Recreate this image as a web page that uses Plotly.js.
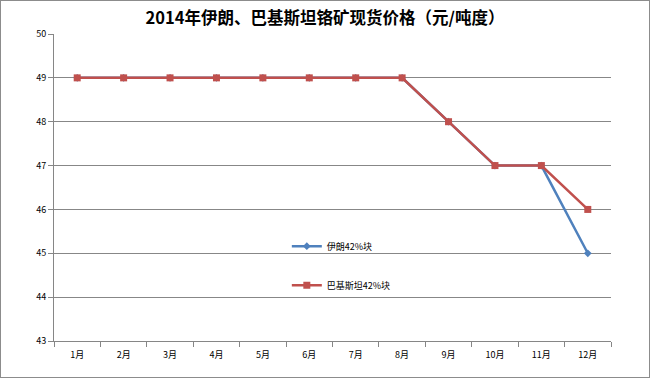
<!DOCTYPE html>
<html><head><meta charset="utf-8">
<script src="https://cdn.plot.ly/plotly-3.0.1.min.js"></script>
<style>html,body{margin:0;padding:0;background:#fff}#c{width:648px;height:376px;border:1px solid #8c8c8c}</style>
</head><body><div id="c"></div>
<script>
const months = ['1月','2月','3月','4月','5月','6月','7月','8月','9月','10月','11月','12月'];
const iran = [49,49,49,49,49,49,49,49,48,47,47,45];
const pakistan = [49,49,49,49,49,49,49,49,48,47,47,46];
const yTicks = [43,44,45,46,47,48,49,50];
const F = '"Noto Sans CJK SC", "Liberation Sans", sans-serif';
const traces = [
  {x: months, y: iran, name: '伊朗42%块', type: 'scatter', mode: 'lines+markers', legendgroup: 'a',
   line: {color: '#4F81BD', width: 2.5}, marker: {symbol: 'diamond', size: 6, color: '#4F81BD'}},
  {x: months, y: pakistan, name: '巴基斯坦42%块', type: 'scatter', mode: 'lines+markers', legendgroup: 'b',
   line: {color: '#C0504D', width: 2.5}, marker: {symbol: 'square', size: 7, color: '#C0504D'}}
];
const layout = {
  width: 648, height: 376,
  margin: {l: 53, r: 38, t: 33, b: 36},
  paper_bgcolor: '#fff', plot_bgcolor: '#fff',
  font: {family: F, size: 9, color: '#000'},
  title: {text: '<b>2014年伊朗、巴基斯坦铬矿现货价格（元/吨度）</b>', x: 0.5, xanchor: 'center', y: 0.955, yanchor: 'middle',
          font: {family: F, size: 16.5, color: '#000'}},
  xaxis: {type: 'category', range: [-0.5, 11.5], showgrid: false, showline: true, linecolor: '#868686', linewidth: 1,
          ticks: 'outside', tickson: 'boundaries', ticklen: 5, tickcolor: '#868686', tickfont: {size: 9},
          ticklabelstandoff: 5, fixedrange: true},
  yaxis: {range: [43, 50], tickvals: yTicks, showgrid: true, gridcolor: '#878787', gridwidth: 1, showline: true,
          linecolor: '#868686', linewidth: 1, ticks: 'outside', ticklen: 5, tickcolor: '#868686', zeroline: false,
          tickfont: {size: 9}, fixedrange: true},
  showlegend: true,
  legend: {x: 0.418, y: 0.356, xanchor: 'left', yanchor: 'top', bgcolor: 'rgba(0,0,0,0)', font: {size: 9},
           tracegroupgap: 20, itemwidth: 30},
};
Plotly.newPlot('c', traces, layout, {displayModeBar: false, staticPlot: true});
</script></body></html>
